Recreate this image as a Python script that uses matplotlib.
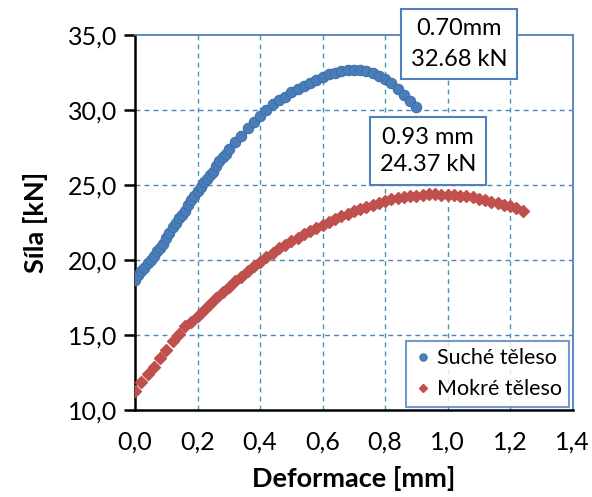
import matplotlib
matplotlib.use("Agg")
import matplotlib.pyplot as plt
from matplotlib.ticker import FuncFormatter

plt.rcParams['font.family'] = ['Lato', 'DejaVu Sans']

# --- data ---
dry_x = [0.00, 0.01, 0.02, 0.03, 0.04, 0.05, 0.06, 0.07, 0.08, 0.09,
         0.10, 0.11, 0.12, 0.13, 0.14, 0.15, 0.16, 0.17, 0.18, 0.19,
         0.20, 0.21, 0.22, 0.23, 0.24, 0.25, 0.26, 0.27, 0.28, 0.29,
         0.30, 0.32, 0.34, 0.36, 0.38, 0.40, 0.42, 0.44, 0.46, 0.48,
         0.50, 0.52, 0.54, 0.56, 0.58, 0.60, 0.62, 0.64, 0.66, 0.68,
         0.70, 0.72, 0.74, 0.76, 0.78, 0.80, 0.82, 0.84, 0.86, 0.88, 0.90]
dry_y = [18.7, 19.0, 19.3, 19.5, 19.8, 20.0, 20.3, 20.6, 20.8, 21.1,
         21.5, 21.8, 22.2, 22.5, 22.8, 23.0, 23.3, 23.7, 24.0, 24.3,
         24.6, 24.9, 25.2, 25.4, 25.7, 25.9, 26.3, 26.6, 26.9, 27.1,
         27.4, 27.9, 28.3, 28.8, 29.2, 29.6, 30.0, 30.4, 30.7, 30.9,
         31.2, 31.4, 31.6, 31.8, 32.0, 32.2, 32.4, 32.5, 32.6, 32.65,
         32.68, 32.65, 32.6, 32.5, 32.3, 32.1, 31.8, 31.4, 31.0, 30.6, 30.2]

wet_x = [0.00, 0.02, 0.04, 0.06, 0.08, 0.10, 0.12, 0.14, 0.16, 0.18,
         0.20, 0.22, 0.24, 0.26, 0.28, 0.30, 0.32, 0.34, 0.36, 0.38,
         0.40, 0.42, 0.44, 0.46, 0.48, 0.50, 0.52, 0.54, 0.56, 0.58,
         0.60, 0.62, 0.64, 0.66, 0.68, 0.70, 0.72, 0.74, 0.76, 0.78,
         0.80, 0.82, 0.84, 0.86, 0.88, 0.90, 0.92, 0.94, 0.96, 0.98,
         1.00, 1.02, 1.04, 1.06, 1.08, 1.10, 1.12, 1.14, 1.16, 1.18,
         1.20, 1.22, 1.24]
wet_y = [11.3, 11.9, 12.4, 12.9, 13.5, 14.0, 14.6, 15.1, 15.6, 15.9,
         16.3, 16.7, 17.1, 17.5, 17.9, 18.2, 18.6, 18.9, 19.3, 19.6,
         19.9, 20.2, 20.5, 20.8, 21.0, 21.3, 21.5, 21.75, 21.95, 22.15,
         22.35, 22.55, 22.75, 22.95, 23.1, 23.25, 23.4, 23.55, 23.7, 23.8,
         23.95, 24.05, 24.15, 24.2, 24.25, 24.3, 24.33, 24.37, 24.37, 24.36,
         24.35, 24.33, 24.3, 24.25, 24.2, 24.1, 24.0, 23.9, 23.8, 23.7,
         23.6, 23.45, 23.3]

series_names = ["Suché těleso", "Mokré těleso"]
annot_dry = "0.70mm\n32.68 kN"
annot_wet = "0.93 mm\n24.37 kN"
x_label = "Deformace [mm]"
y_label = "Síla [kN]"
x_ticks = [0.0, 0.2, 0.4, 0.6, 0.8, 1.0, 1.2, 1.4]
y_ticks = [10, 15, 20, 25, 30, 35]

BLUE = '#4a7ebb'
RED = '#c0504d'
FRAME = '#4f81bd'
VGRID = '#3d9ab3'

fig = plt.figure(figsize=(5.92, 4.97), dpi=100)
ax = fig.add_axes([135/592, 1-410/497, 437.5/592, 375/497])

ax.set_xlim(0, 1.4)
ax.set_ylim(10, 35)
ax.set_xticks(x_ticks)
ax.set_yticks(y_ticks)
fmt = FuncFormatter(lambda v, p: f"{v:.1f}".replace('.', ','))
ax.xaxis.set_major_formatter(fmt)
ax.yaxis.set_major_formatter(fmt)

for xv in x_ticks[1:-1]:
    ax.axvline(xv, color=VGRID, lw=1.0, ls=(0, (3.5, 3)), zorder=1)
for yv in y_ticks[1:-1]:
    ax.axhline(yv, color=FRAME, lw=1.0, ls=(0, (3.5, 3)), zorder=1)

ax.plot(dry_x, dry_y, ls='none', marker='o', ms=7.5, color=BLUE,
        mec='#3f70aa', mew=0.8, label=series_names[0], zorder=3)
ax.plot(wet_x, wet_y, ls='none', marker='D', ms=5.8, color=RED,
        mec=RED, label=series_names[1], zorder=3)

for s in ['left', 'bottom']:
    ax.spines[s].set_color('black')
    ax.spines[s].set_linewidth(1.8)
for s in ['top', 'right']:
    ax.spines[s].set_color(FRAME)
    ax.spines[s].set_linewidth(1.3)

ax.tick_params(axis='y', direction='out', length=8, width=1.8, labelsize=18, pad=5)
ax.tick_params(axis='x', length=0, labelsize=18, pad=15)

ax.set_xlabel(x_label, fontsize=19.5, fontweight='bold', labelpad=9)
ax.set_ylabel(y_label, fontsize=19.5, fontweight='bold', labelpad=14)

bbox = dict(boxstyle='square,pad=0.4', fc='white', ec=FRAME, lw=1.5)
ax.text(1.037, 34.4, annot_dry, ha='center', va='center', fontsize=17,
        linespacing=1.55, bbox=bbox, zorder=5, clip_on=False)
ax.text(0.938, 27.27, annot_wet, ha='center', va='center', fontsize=17,
        linespacing=1.4, bbox=bbox, zorder=5, clip_on=False)

leg = ax.legend(loc='lower right', bbox_to_anchor=(1.0, 0.0), borderaxespad=0.15,
                fontsize=15.5, frameon=True, fancybox=False, handletextpad=0.2,
                handlelength=0.9, borderpad=0.35, labelspacing=0.5, markerscale=0.7)
leg.get_frame().set_edgecolor(FRAME)
leg.get_frame().set_linewidth(1.5)
leg.set_zorder(6)

fig.savefig('out.png', dpi=100)
